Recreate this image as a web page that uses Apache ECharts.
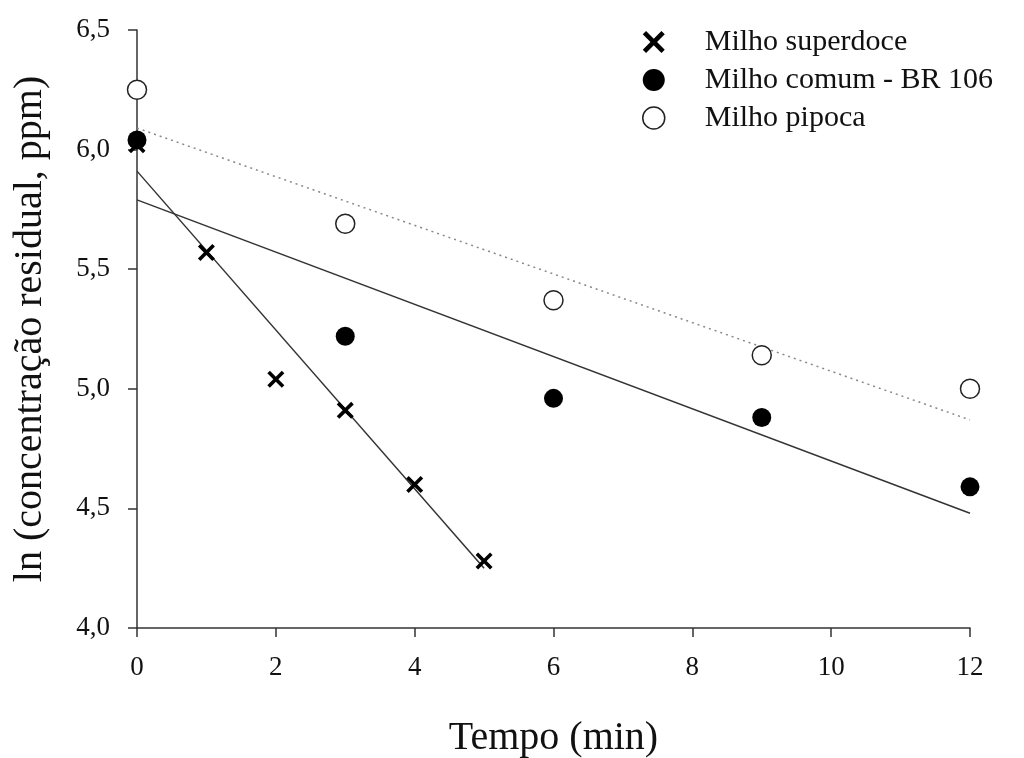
<!DOCTYPE html>
<html style="height: 100%">
<head>
    <meta charset="utf-8">
</head>
<body style="height: 100%; margin: 0; background: #fff">
<div id="container" style="width: 1024px; height: 758px"></div>
<script src="https://cdn.jsdelivr.net/npm/echarts@6/dist/echarts.min.js"></script>
<script type="text/javascript">
    // observed values, x = tempo (min), y = ln(concentração residual)
    var superdoce = [[0, 6.02], [1, 5.57], [2, 5.04], [3, 4.91], [4, 4.60], [5, 4.28]];
    var comum = [[0, 6.04], [3, 5.22], [6, 4.96], [9, 4.88], [12, 4.59]];
    var pipoca = [[0, 6.25], [3, 5.69], [6, 5.37], [9, 5.14], [12, 5.00]];
    // regression lines (endpoints)
    var fitSuperdoce = [[0, 5.91], [5, 4.25]];
    var fitComum = [[0, 5.79], [12, 4.48]];
    var fitPipoca = [[0, 6.09], [12, 4.87]];
    var names = ['Milho superdoce', 'Milho comum - BR 106', 'Milho pipoca'];

    var cross = 'path://M1.5,0 L5,3.5 L8.5,0 L10,1.5 L6.5,5 L10,8.5 L8.5,10 L5,6.5 L1.5,10 L0,8.5 L3.5,5 L0,1.5 Z';
    var font = '"Liberation Serif", "Times New Roman", serif';

    var chart = echarts.init(document.getElementById('container'), null, {renderer: 'canvas'});

    var option = {
        backgroundColor: '#fff',
        animation: false,
        textStyle: {fontFamily: font, color: '#111'},
        grid: {left: 137, right: 54, top: 30, bottom: 130, outerBoundsMode: 'none'},
        legend: {
            orient: 'vertical',
            left: 637,
            top: 22,
            itemGap: 8,
            itemWidth: 22,
            itemHeight: 22,
            textStyle: {fontFamily: font, fontSize: 30, color: '#111', padding: [0, 0, 0, 35]},
            data: [
                {name: names[0], icon: cross, itemStyle: {color: '#000'}},
                {name: names[1], icon: 'circle', itemStyle: {color: '#000'}},
                {name: names[2], icon: 'circle', itemStyle: {color: '#fff', borderColor: '#222', borderWidth: 1.5}}
            ]
        },
        xAxis: {
            type: 'value',
            min: 0, max: 12, interval: 2,
            name: 'Tempo (min)',
            nameLocation: 'middle',
            nameGap: 90,
            nameTextStyle: {fontFamily: font, fontSize: 40, color: '#111'},
            axisLine: {lineStyle: {color: '#333', width: 1.5}},
            axisTick: {inside: false, length: 9, lineStyle: {color: '#333', width: 1.5}},
            axisLabel: {fontFamily: font, fontSize: 27, color: '#111', margin: 26},
            splitLine: {show: false}
        },
        yAxis: {
            type: 'value',
            min: 4.0, max: 6.5, interval: 0.5,
            name: 'ln (concentração residual, ppm)',
            nameLocation: 'middle',
            nameGap: 87,
            nameTextStyle: {fontFamily: font, fontSize: 40, color: '#111'},
            axisLine: {show: true, lineStyle: {color: '#333', width: 1.5}},
            axisTick: {show: true, inside: false, length: 9, lineStyle: {color: '#333', width: 1.5}},
            axisLabel: {
                fontFamily: font, fontSize: 27, color: '#111', margin: 27,
                formatter: function (v) { return v.toFixed(1).replace('.', ','); }
            },
            splitLine: {show: false}
        },
        series: [
            {
                name: names[0] + ' fit', type: 'line', data: fitSuperdoce, symbol: 'none',
                lineStyle: {color: '#333', width: 1.5}, silent: true, z: 1
            },
            {
                name: names[1] + ' fit', type: 'line', data: fitComum, symbol: 'none',
                lineStyle: {color: '#333', width: 1.5}, silent: true, z: 1
            },
            {
                name: names[2] + ' fit', type: 'line', data: fitPipoca, symbol: 'none',
                lineStyle: {color: '#888', width: 1.5, type: [2, 4]}, silent: true, z: 1
            },
            {
                name: names[2], type: 'scatter', data: pipoca, symbol: 'circle', symbolSize: 19,
                itemStyle: {color: '#fff', borderColor: '#222', borderWidth: 1.5, opacity: 1}, z: 3
            },
            {
                name: names[1], type: 'scatter', data: comum, symbol: 'circle', symbolSize: 19,
                itemStyle: {color: '#000', opacity: 1}, z: 4
            },
            {
                name: names[0], type: 'scatter', data: superdoce, symbol: cross, symbolSize: 17,
                itemStyle: {color: '#000', opacity: 1}, z: 5
            }
        ]
    };

    chart.setOption(option);
</script>
</body>
</html>
